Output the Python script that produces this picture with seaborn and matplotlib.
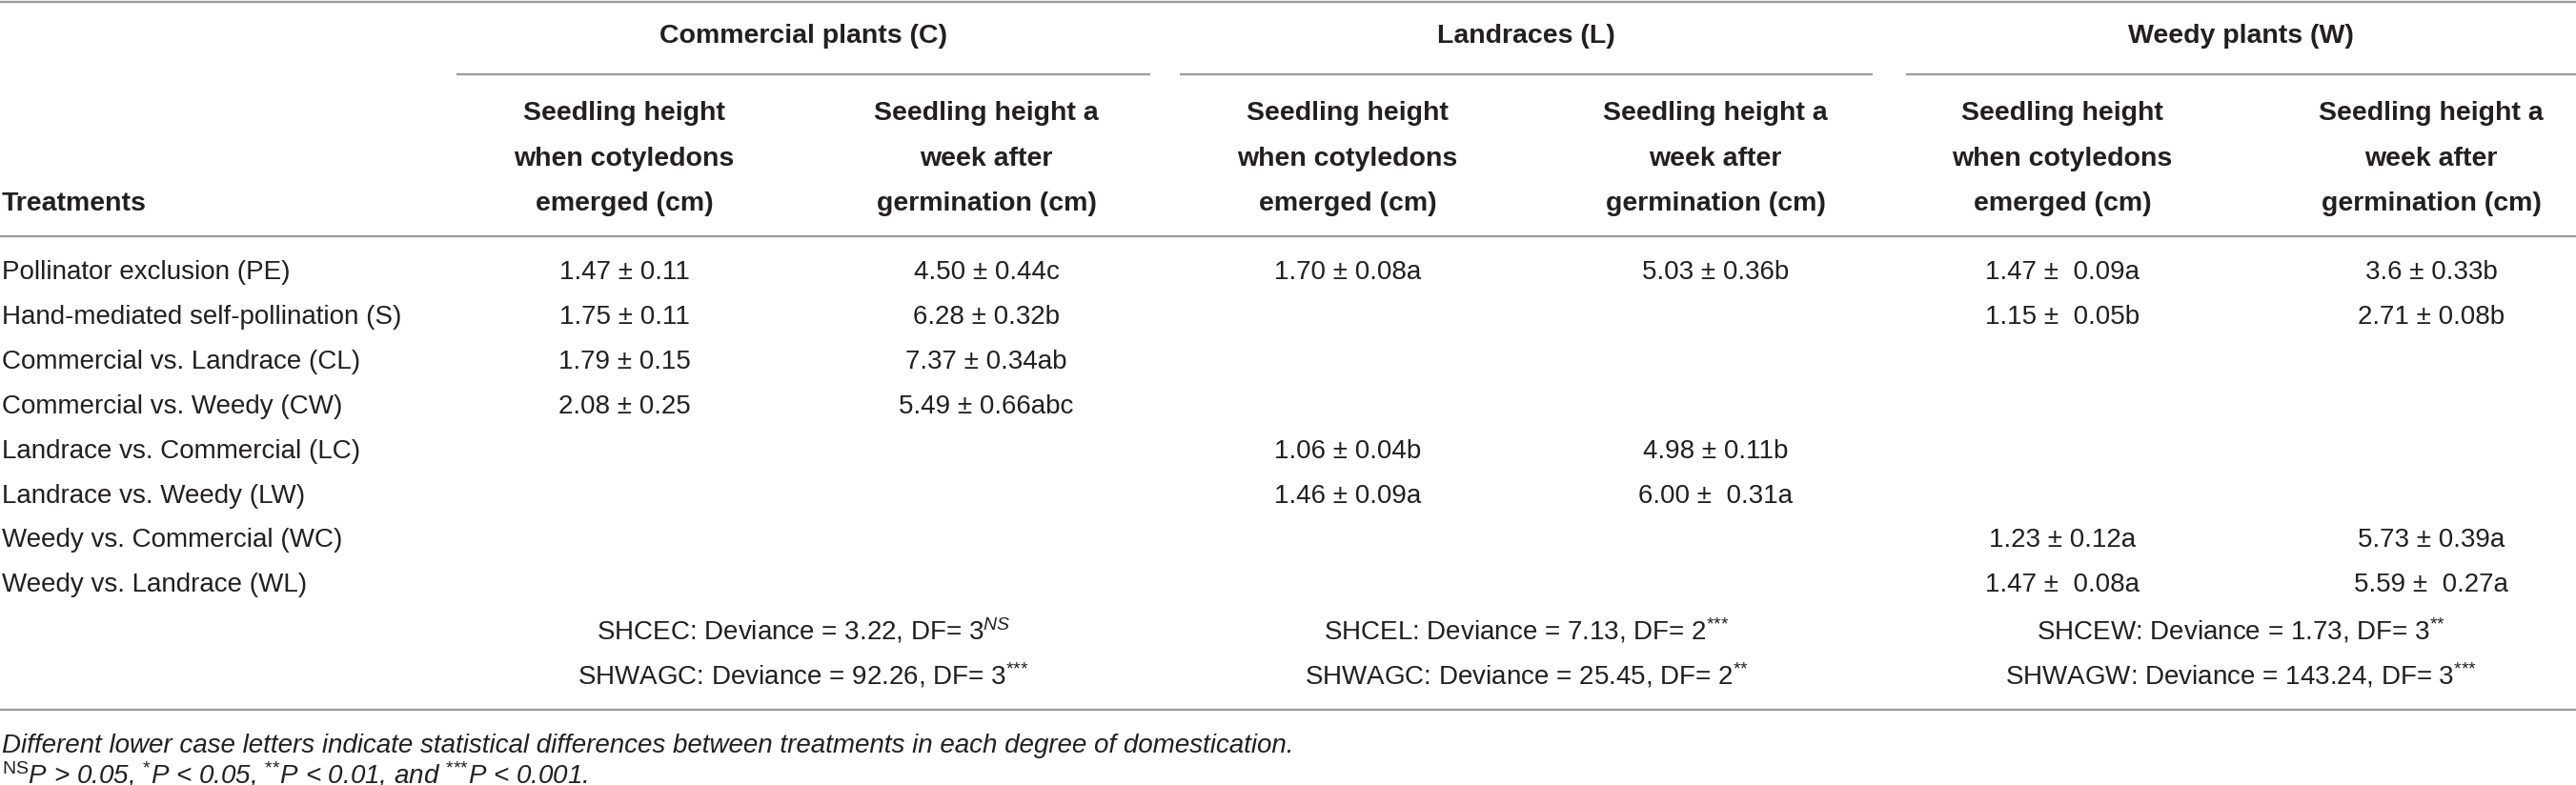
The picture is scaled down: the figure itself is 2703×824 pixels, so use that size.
import matplotlib
matplotlib.use('Agg')
import matplotlib.pyplot as plt
import seaborn as sns
import pandas as pd

# table content
groups = ['Commercial plants (C)', 'Landraces (L)', 'Weedy plants (W)']
sub_headers = [['Seedling height', 'when cotyledons', 'emerged (cm)'],
               ['Seedling height a', 'week after', 'germination (cm)']]
treatments = ['Pollinator exclusion (PE)', 'Hand-mediated self-pollination (S)',
              'Commercial vs. Landrace (CL)', 'Commercial vs. Weedy (CW)',
              'Landrace vs. Commercial (LC)', 'Landrace vs. Weedy (LW)',
              'Weedy vs. Commercial (WC)', 'Weedy vs. Landrace (WL)']
commercial_emerged = ['1.47 ± 0.11', '1.75 ± 0.11', '1.79 ± 0.15', '2.08 ± 0.25', '', '', '', '']
commercial_week = ['4.50 ± 0.44c', '6.28 ± 0.32b', '7.37 ± 0.34ab', '5.49 ± 0.66abc', '', '', '', '']
landrace_emerged = ['1.70 ± 0.08a', '', '', '', '1.06 ± 0.04b', '1.46 ± 0.09a', '', '']
landrace_week = ['5.03 ± 0.36b', '', '', '', '4.98 ± 0.11b', '6.00 ±  0.31a', '', '']
weedy_emerged = ['1.47 ±  0.09a', '1.15 ±  0.05b', '', '', '', '', '1.23 ± 0.12a', '1.47 ±  0.08a']
weedy_week = ['3.6 ± 0.33b', '2.71 ± 0.08b', '', '', '', '', '5.73 ± 0.39a', '5.59 ±  0.27a']
emerged_stats = ['SHCEC: Deviance = 3.22, DF= 3$^{NS}$',
                 r'SHCEL: Deviance = 7.13, DF= 2$^{\text{***}}$',
                 r'SHCEW: Deviance = 1.73, DF= 3$^{\text{**}}$']
week_stats = [r'SHWAGC: Deviance = 92.26, DF= 3$^{\text{***}}$',
              r'SHWAGC: Deviance = 25.45, DF= 2$^{\text{**}}$',
              r'SHWAGW: Deviance = 143.24, DF= 3$^{\text{***}}$']
notes = ['Different lower case letters indicate statistical differences between treatments in each degree of domestication.',
         r'$^{\text{NS}}$P > 0.05, $^{\text{*}}$P < 0.05, $^{\text{**}}$P < 0.01, and $^{\text{***}}$P < 0.001.']

table = pd.DataFrame({'C1': commercial_emerged, 'C2': commercial_week,
                      'L1': landrace_emerged, 'L2': landrace_week,
                      'W1': weedy_emerged, 'W2': weedy_week}, index=treatments)

sns.set_theme(style='white')
plt.rcParams['font.family'] = ['Liberation Sans', 'DejaVu Sans']
plt.rcParams['mathtext.fontset'] = 'custom'
plt.rcParams['mathtext.rm'] = 'Liberation Sans'
plt.rcParams['mathtext.it'] = 'Liberation Sans:italic'
plt.rcParams['mathtext.bf'] = 'Liberation Sans:bold'

W, H = 2703, 824
fig = plt.figure(figsize=(W / 100, H / 100), dpi=100)
ax = fig.add_axes([0, 0, 1, 1])
ax.set_xlim(0, W)
ax.set_ylim(H, 0)
ax.axis('off')

ink = '#231f20'
rule = '#9d9d9d'
fs = 20
fs_b = 20.5

col_x = [655, 1035, 1414, 1800, 2164, 2551]
spans = [(479, 1207), (1238, 1965), (2000, 2703)]
row0, row_h = 286, 46.9

# rules
for y in [1.5, 248, 745]:
    ax.plot([0, W], [y, y], color=rule, lw=1.7, solid_capstyle='butt')
for (a, b) in spans:
    ax.plot([a, b], [78, 78], color=rule, lw=1.7, solid_capstyle='butt')

# headers
for g, (a, b) in zip(groups, spans):
    ax.text((a + b) / 2, 38, g, ha='center', va='center', fontsize=fs_b,
            fontweight='bold', color=ink)
for j, x in enumerate(col_x):
    for k, line in enumerate(sub_headers[j % 2]):
        ax.text(x, 119 + k * 47.5, line, ha='center', va='center',
                fontsize=fs_b, fontweight='bold', color=ink)
ax.text(2, 214, 'Treatments', ha='left', va='center', fontsize=fs_b,
        fontweight='bold', color=ink)

# body
for i, t in enumerate(table.index):
    y = row0 + i * row_h
    ax.text(2, y, t, ha='left', va='center', fontsize=fs, color=ink)
    for j, c in enumerate(table.columns):
        ax.text(col_x[j], y, table.loc[t, c], ha='center', va='center',
                fontsize=fs, color=ink)

ny = row0 + len(treatments) * row_h
for k, (a, b) in enumerate(spans):
    ax.text((a + b) / 2, ny + 1, emerged_stats[k], ha='center', va='center',
            fontsize=fs, color=ink)
    ax.text((a + b) / 2, ny + 48, week_stats[k], ha='center', va='center',
            fontsize=fs, color=ink)

ax.text(2, 783, notes[0], ha='left', va='center', fontsize=fs,
        fontstyle='italic', color=ink)
ax.text(2, 813, notes[1], ha='left', va='center', fontsize=fs,
        fontstyle='italic', color=ink)

fig.savefig('out.png', dpi=100, facecolor='white')
